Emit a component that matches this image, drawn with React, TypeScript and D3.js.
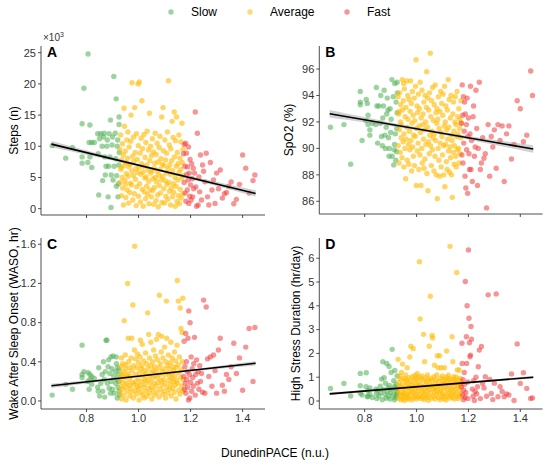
import React from "react";
import * as d3 from "d3";

// ---------- DATA ----------
const groups = ["Slow", "Average", "Fast"];
const groupColors = ["#4CAF50", "#FFBA00", "#F03C3C"];
const xTicks = [0.8, 1.0, 1.2, 1.4];
const xDomain: [number, number] = [0.625, 1.486];

// DunedinPACE per participant, by group
const xSlow = [0.668,0.72,0.746,0.783,0.783,0.783,0.79,0.806,0.805,0.81,
  0.813,0.813,0.82,0.82,0.83,0.843,0.845,0.847,0.85,0.855,
  0.86,0.862,0.865,0.868,0.87,0.872,0.875,0.878,0.88,0.883,
  0.885,0.887,0.89,0.892,0.894,0.895,0.898,0.90,0.902,0.905,
  0.906,0.91,0.912,0.914,0.916,0.918,0.92,0.921,0.923,0.925,
  0.925,0.924,0.926,0.915];
const xAvg = [0.928,0.929,0.931,0.932,0.934,0.935,0.937,0.938,0.939,0.941,
  0.942,0.944,0.945,0.946,0.948,0.949,0.951,0.952,0.953,0.955,
  0.956,0.958,0.959,0.960,0.962,0.963,0.964,0.966,0.967,0.969,
  0.970,0.971,0.973,0.974,0.975,0.977,0.978,0.980,0.981,0.982,
  0.984,0.985,0.987,0.988,0.989,0.991,0.992,0.993,0.995,0.996,
  0.998,0.999,1.000,1.002,1.003,1.004,1.006,1.007,1.009,1.010,
  1.011,1.013,1.014,1.015,1.017,1.018,1.020,1.021,1.022,1.024,
  1.025,1.027,1.028,1.029,1.031,1.032,1.033,1.035,1.036,1.038,
  1.039,1.040,1.042,1.043,1.044,1.046,1.047,1.049,1.050,1.051,
  1.053,1.054,1.055,1.057,1.058,1.060,1.061,1.062,1.064,1.065,
  1.067,1.068,1.069,1.071,1.072,1.073,1.075,1.076,1.078,1.079,
  1.080,1.082,1.083,1.084,1.086,1.087,1.089,1.090,1.091,1.093,
  1.094,1.095,1.097,1.098,1.100,1.101,1.102,1.104,1.105,1.107,
  1.108,1.109,1.111,1.112,1.113,1.115,1.116,1.118,1.119,1.120,
  1.122,1.123,1.124,1.126,1.127,1.129,1.130,1.131,1.133,1.134,
  1.135,1.137,1.138,1.140,1.141,1.142,1.144,1.145,1.146,1.148,
  1.149,1.151,1.152,1.153,1.155,1.156,1.157,1.159,1.160,1.162,
  1.163,1.164,1.166,1.167,1.168,1.170,1.171,1.172,0.933,0.950];
const xFast = [1.173,1.175,1.176,1.178,1.179,1.181,1.182,1.184,1.185,1.187,
  1.188,1.190,1.192,1.193,1.195,1.197,1.198,1.200,1.202,1.204,
  1.206,1.208,1.210,1.212,1.215,1.218,1.220,1.223,1.226,1.229,
  1.232,1.235,1.238,1.242,1.246,1.250,1.255,1.260,1.265,1.270,
  1.276,1.282,1.288,1.294,1.300,1.307,1.314,1.322,1.330,1.338,
  1.347,1.356,1.366,1.376,1.388,1.40,1.412,1.425,1.44,1.447];

// Steps (x10^3)
const stepsSlow = [10.1,8.1,9.8,13.6,8.3,7.3,19.3,24.8,7.4,10.6,
  13.4,8.3,6.6,10.6,10.6,12.0,8.8,2.2,11.2,12.0,
  10.0,4.5,11.5,12.1,8.3,5.4,6.8,10.0,11.0,1.9,
  6.8,12.0,8.3,14.2,0.2,5.4,10.2,11.5,4.6,21.2,
  6.8,12.1,8.0,17.6,5.3,10.0,11.0,1.9,4.0,14.7,
  13.5,7.0,9.0,3.6];
const stepsAvg = [9.5,4.2,11.8,6.3,2.1,7.8,5.0,10.4,3.3,8.6,
  0.6,16.1,6.9,13.2,4.5,9.2,1.8,7.4,5.6,11.0,
  3.0,8.1,12.3,5.2,0.9,6.7,9.9,2.6,7.1,4.1,
  10.8,15.0,3.8,6.0,20.2,8.4,1.4,5.3,11.5,7.6,
  2.4,16.2,9.0,4.7,6.4,0.5,12.0,3.5,7.9,5.8,
  20.0,10.1,2.0,6.6,20.3,4.0,8.9,1.1,5.5,11.3,
  7.2,17.3,3.1,9.6,5.9,0.4,6.8,11.9,2.7,4.9,
  8.2,1.6,10.6,5.1,3.6,7.0,12.4,2.3,6.2,9.4,
  4.4,0.8,15.3,7.7,3.0,10.0,5.7,1.9,8.5,6.1,
  11.2,2.9,4.8,9.1,0.7,6.5,3.4,7.3,12.1,5.0,
  1.3,8.7,4.3,10.5,6.0,2.2,7.5,0.3,5.4,9.8,
  3.7,11.6,6.3,2.5,8.0,4.6,14.7,1.0,7.1,5.2,
  16.2,9.3,3.2,6.9,0.9,11.0,4.5,7.8,2.0,5.7,
  8.9,3.9,12.3,1.5,6.4,20.5,4.2,10.2,2.8,7.0,
  5.5,0.6,9.6,3.3,7.7,14.0,1.9,6.1,11.4,4.0,
  2.6,15.5,8.3,5.0,0.4,10.9,3.6,6.8,14.7,1.2,
  9.0,4.6,7.2,2.1,11.8,5.8,0.8,8.1,3.1,6.3,
  10.7,1.7,4.9,13.7,7.4,2.4,9.5,5.3,6.6,3.9];
const stepsFast = [8.8,4.2,10.3,6.8,2.5,10.5,1.2,8.9,5.5,3.0,
  6.7,4.6,9.9,0.85,5.7,2.0,7.9,3.8,1.4,7.2,
  4.8,1.9,6.5,3.2,5.7,15.5,3.5,0.4,12.1,0.6,
  5.1,2.7,8.6,1.4,7.0,6.0,4.3,8.9,1.9,0.6,
  7.4,3.0,4.6,0.85,5.7,3.2,6.2,1.7,2.4,2.6,
  3.6,4.3,0.8,1.5,3.9,8.6,6.5,2.5,4.5,5.4];

// SpO2 (%)
const spo2Slow = [91.6,91.8,88.8,94.3,93.5,93.3,90.6,93.7,92.1,93.4,
  92.5,91.8,91.4,91.0,91.9,91.8,94.6,93.2,90.4,93.2,
  91.9,94.0,90.9,90.2,92.3,93.2,94.4,91.0,90.0,91.6,
  92.6,93.8,92.9,90.8,89.4,90.0,93.0,91.2,92.2,95.2,
  89.4,93.9,88.75,89.9,94.9,91.1,89.1,93.5,89.75,95.0,
  92.7,91.5,94.2,90.3];
const spo2Avg = [93.9,90.2,92.6,88.9,91.4,94.2,89.7,92.0,93.3,90.8,
  91.8,89.3,95.2,92.9,90.5,93.6,88.6,91.1,94.5,90.0,
  92.4,87.7,93.1,90.7,95.1,91.6,89.1,94.0,92.2,90.3,
  88.8,93.7,91.3,89.9,92.8,95.1,90.6,93.4,88.3,91.9,
  94.3,90.1,92.5,89.4,91.0,93.8,88.7,92.1,90.9,94.7,
  96.7,87.2,91.5,93.2,89.8,92.7,90.4,94.1,88.4,91.7,
  93.0,89.5,95.0,91.2,87.2,92.3,90.0,94.4,88.9,91.8,
  92.6,90.7,93.5,88.5,91.4,89.2,94.0,92.0,90.3,93.1,
  95.8,88.1,91.6,93.8,86.8,90.5,92.9,89.6,94.2,91.0,
  97.2,90.2,92.4,88.7,93.6,91.3,89.9,94.6,90.8,92.1,
  88.3,93.3,91.1,89.4,94.8,90.6,92.7,88.0,91.9,93.0,
  86.2,92.2,90.0,93.9,89.1,91.5,87.9,92.8,90.4,94.3,
  91.2,88.6,93.4,90.9,89.5,92.5,94.1,90.2,88.0,91.7,
  94.7,87.1,92.0,90.3,93.2,89.0,91.4,88.4,92.9,90.7,
  95.2,89.8,91.6,93.7,88.2,90.1,92.3,89.3,94.0,91.0,
  88.0,90.6,86.3,92.6,89.7,93.5,91.3,88.8,90.2,92.0,
  93.9,89.4,91.8,88.6,90.9,94.3,89.9,92.4,91.1,90.0,
  93.0,88.9,91.5,92.2,89.6,90.8,93.6,91.9,92.8,94.9];
const spo2Fast = [91.9,89.5,94.8,92.5,88.9,93.9,90.4,91.3,93.5,87.9,
  92.6,87.0,91.8,89.9,93.8,86.6,90.9,92.3,89.6,88.4,
  91.1,94.7,88.4,90.6,87.5,92.4,93.2,89.4,90.1,94.4,
  91.5,87.2,90.0,95.0,88.4,88.9,90.8,89.25,89.6,85.5,
  91.8,87.9,90.9,90.1,91.4,88.5,91.8,90.6,91.7,87.5,
  91.1,91.7,89.2,90.3,93.6,93.0,90.5,91.0,95.85,94.0];

// WASO (hr)
const wasoSlow = [0.06,0.17,0.12,0.57,0.27,0.24,0.30,0.29,0.20,0.12,
  0.27,0.22,0.17,0.25,0.23,0.14,0.10,0.34,0.05,0.18,
  0.27,0.10,0.40,0.22,0.04,0.30,0.62,0.62,0.18,0.35,
  0.42,0.13,0.28,0.08,0.45,0.20,0.33,0.12,0.46,0.25,
  0.08,0.30,0.18,0.45,0.22,0.03,0.34,0.14,0.27,0.10,
  0.32,0.20,0.06,0.38];
const wasoAvg = [0.21,0.08,0.35,0.15,0.44,0.02,0.27,0.12,0.38,0.19,
  0.30,0.06,0.82,0.24,0.14,0.47,0.33,0.01,0.18,0.26,
  0.10,1.20,0.28,0.64,0.40,0.16,0.22,0.05,0.34,0.13,
  0.25,0.44,0.09,0.64,0.31,0.19,0.98,0.03,0.36,0.17,
  0.52,1.58,0.11,0.27,0.43,0.20,0.07,0.34,0.15,0.48,
  0.23,0.12,0.39,0.01,0.29,0.16,0.45,0.62,0.09,0.33,
  0.20,0.36,0.58,0.06,0.26,0.14,0.41,0.31,0.03,0.22,
  0.17,0.49,0.10,0.28,0.38,0.21,0.05,0.90,0.33,0.13,
  0.68,0.25,0.44,0.08,0.19,0.36,0.60,0.14,0.29,0.02,
  0.23,0.40,0.11,0.31,0.52,0.18,0.06,0.35,0.26,0.46,
  0.15,0.30,0.63,0.09,0.24,0.42,0.19,0.68,0.34,0.04,
  1.08,0.27,0.12,0.38,0.21,0.50,0.66,0.16,0.30,0.07,
  0.44,0.22,0.33,0.10,0.55,0.18,0.27,0.03,0.40,1.02,
  0.64,0.14,0.29,0.36,0.08,0.47,0.21,0.33,0.12,0.25,
  0.39,0.17,0.60,0.05,0.28,0.44,0.23,0.13,0.35,0.20,
  0.31,0.09,0.50,0.26,0.16,0.41,0.02,0.34,0.21,0.57,
  1.23,0.18,0.37,1.02,0.11,0.29,0.45,0.07,0.95,0.24,
  0.74,0.32,0.15,0.70,0.40,1.05,0.22,0.10,0.26,0.37];
const wasoFast = [0.25,0.61,0.12,0.35,0.18,0.69,0.08,0.40,0.22,0.30,
  0.14,0.64,0.01,0.92,0.27,0.03,0.80,0.19,0.45,0.10,
  0.33,0.24,0.15,0.38,0.65,0.06,0.27,0.42,0.18,0.30,
  0.12,0.36,0.20,0.28,0.09,1.03,0.08,0.96,0.43,0.25,
  0.45,0.15,0.47,0.31,0.08,0.52,0.64,0.16,0.10,0.27,
  0.22,0.35,0.59,0.28,0.44,0.11,0.55,0.74,0.20,0.75];

// High stress duration (hr/day)
const stressSlow = [0.53,0.74,0.21,1.16,0.64,0.33,0.25,1.19,0.60,0.18,
  0.43,0.20,0.55,0.28,0.15,0.50,0.32,0.10,0.45,0.22,
  0.62,0.35,0.92,0.05,1.65,0.48,0.98,0.28,0.75,0.12,
  1.58,0.40,0.55,0.20,1.45,0.65,0.08,0.35,1.20,0.50,
  2.17,0.25,0.85,0.60,1.28,0.15,0.45,0.70,0.30,1.05,
  0.20,0.55,0.38,0.05];
const stressAvg = [0.45,1.75,0.12,0.80,0.30,1.05,0.60,0.05,0.92,0.38,
  1.20,0.22,0.70,1.55,0.10,0.55,0.95,0.33,0.02,0.85,
  0.48,1.10,0.18,0.65,0.90,0.28,1.40,0.07,0.75,0.40,
  0.15,0.98,0.58,1.85,0.25,0.82,2.30,0.44,0.04,0.68,
  1.02,0.35,2.20,0.60,0.13,0.88,0.50,0.21,1.08,0.72,
  0.30,0.95,0.08,0.62,1.15,0.40,0.78,0.16,0.55,1.00,
  5.85,0.25,3.45,0.70,0.10,0.92,0.45,1.05,0.18,0.60,
  0.36,2.80,0.85,0.06,1.65,0.52,0.28,0.98,0.65,0.14,
  0.80,0.40,1.10,0.22,0.58,0.03,0.90,2.30,0.48,0.70,
  4.40,0.32,0.95,0.12,0.62,2.75,0.85,2.65,0.20,0.50,
  1.02,0.38,1.50,0.08,0.72,0.55,0.90,0.26,1.10,0.44,
  1.90,0.64,1.40,0.15,0.82,0.35,1.90,0.58,0.05,0.96,
  0.42,1.40,0.70,0.18,1.05,0.30,0.86,0.52,0.10,0.75,
  1.40,0.25,0.92,0.60,0.04,1.00,2.10,0.45,0.78,0.20,
  0.66,1.08,0.35,0.88,0.12,6.50,0.56,0.94,0.28,0.72,
  0.48,2.70,0.16,1.65,0.82,0.38,1.02,0.60,0.08,0.90,
  0.30,0.75,0.50,1.00,5.40,0.22,1.30,0.65,0.10,0.85,
  0.42,1.30,0.18,0.70,0.95,0.32,0.58,0.80,0.62,0.27];
const stressFast = [0.60,2.43,1.58,0.25,0.90,0.05,0.45,1.20,0.70,0.15,
  5.02,0.35,2.70,1.58,4.00,0.80,0.10,6.35,3.48,2.45,
  1.86,1.93,3.13,2.60,0.50,0.20,0.85,0.02,0.40,1.00,
  0.30,0.60,1.44,2.14,0.10,2.29,0.74,0.55,1.02,0.20,
  4.46,0.91,0.32,0.06,0.75,4.50,0.18,0.60,0.40,0.18,
  0.30,0.25,1.14,0.02,2.40,0.74,1.19,0.53,0.11,0.13];

// Linear fits (endpoints) and standard-error half-widths [at ends, at centre]
const fitSteps = [[0.665, 10.35], [1.45, 2.45]];
const fitSpo2 = [[0.665, 92.62], [1.45, 89.95]];
const fitWaso = [[0.665, 0.155], [1.45, 0.385]];
const fitStress = [[0.665, 0.30], [1.45, 1.0]];
const seSteps = [0.5, 0.18];
const seSpo2 = [0.28, 0.1];
const seWaso = [0.022, 0.008];
const seStress = [0.06, 0.02];

const stepsTicks = [0, 5, 10, 15, 20, 25];
const spo2Ticks = [86, 88, 90, 92, 94, 96];
const wasoTicks = [0, 0.4, 0.8, 1.2, 1.6];
const stressTicks = [0, 1, 2, 3, 4, 5, 6];

// ---------- DRAWING ----------
const FONT = "'Liberation Sans', Arial, Helvetica, sans-serif";
const xGroups = [xSlow, xAvg, xFast];

type PanelDef = {
  letter: string;
  title: string;
  ys: number[][];
  domain: [number, number];
  ticks: number[];
  fmt: (v: number) => string;
  fit: number[][];
  se: number[];
  left: number;
  right: number;
  top: number;
  bottom: number;
  titleX: number;
  showXLabels: boolean;
  mult?: boolean;
};

function Panel({ p }: { p: PanelDef }) {
  const x = d3.scaleLinear().domain(xDomain).range([p.left, p.right]);
  const y = d3.scaleLinear().domain(p.domain).range([p.bottom, p.top]);
  const [[fx0, fy0], [fx1, fy1]] = p.fit;
  const slope = (fy1 - fy0) / (fx1 - fx0);
  const xc = (fx0 + fx1) / 2;
  const half = (fx1 - fx0) / 2;
  const [seE, seM] = p.se;
  const samples = d3.range(0, 41).map((i) => fx0 + ((fx1 - fx0) * i) / 40);
  const seAt = (v: number) =>
    Math.sqrt(seM * seM + (seE * seE - seM * seM) * ((v - xc) / half) ** 2);
  const band = d3
    .area<number>()
    .x((v) => x(v))
    .y0((v) => y(fy0 + slope * (v - fx0) - seAt(v)))
    .y1((v) => y(fy0 + slope * (v - fx0) + seAt(v)));
  const axisColor = "#222";
  return (
    <g>
      {xGroups.map((xs, g) =>
        xs.map((xv, i) => (
          <circle
            key={`${g}-${i}`}
            cx={x(xv)}
            cy={y(p.ys[g][i])}
            r={2.7}
            fill={groupColors[g]}
            fillOpacity={g === 1 ? 0.6 : 0.55}
          />
        ))
      )}
      <path d={band(samples) || ""} fill="#9a9a9a" fillOpacity={0.45} />
      <line
        x1={x(fx0)}
        y1={y(fy0)}
        x2={x(fx1)}
        y2={y(fy1)}
        stroke="#000"
        strokeWidth={1.6}
      />
      <line x1={p.left} y1={p.top} x2={p.left} y2={p.bottom} stroke={axisColor} strokeWidth={0.8} />
      <line x1={p.left} y1={p.bottom} x2={p.right} y2={p.bottom} stroke={axisColor} strokeWidth={0.8} />
      {p.ticks.map((t) => (
        <g key={`yt${t}`}>
          <line x1={p.left - 3} x2={p.left} y1={y(t)} y2={y(t)} stroke={axisColor} strokeWidth={0.8} />
          <text
            x={p.left - 5}
            y={y(t)}
            dy="0.35em"
            textAnchor="end"
            fontSize={11}
            fill="#333"
            fontFamily={FONT}
          >
            {p.fmt(t)}
          </text>
        </g>
      ))}
      {xTicks.map((t) => (
        <g key={`xt${t}`}>
          <line x1={x(t)} x2={x(t)} y1={p.bottom} y2={p.bottom + 3} stroke={axisColor} strokeWidth={0.8} />
          {p.showXLabels && (
            <text
              x={x(t)}
              y={p.bottom + 13}
              textAnchor="middle"
              fontSize={11}
              fill="#333"
              fontFamily={FONT}
            >
              {d3.format(".1f")(t)}
            </text>
          )}
        </g>
      ))}
      <text x={p.left + 6} y={p.top + 11} fontSize={14} fontWeight="bold" fontFamily={FONT} fill="#000">
        {p.letter}
      </text>
      <text
        transform={`translate(${p.titleX},${(p.top + p.bottom) / 2}) rotate(-90)`}
        textAnchor="middle"
        dy="0.35em"
        fontSize={12}
        fontFamily={FONT}
        fill="#000"
      >
        {p.title}
      </text>
      {p.mult && (
        <text x={p.left + 2} y={p.top - 5} fontSize={10} fontFamily={FONT} fill="#333">
          ×10<tspan dy={-4} fontSize={7}>3</tspan>
        </text>
      )}
    </g>
  );
}

export default function App() {
  const fmtInt = d3.format("d");
  const fmt1 = d3.format(".1f");
  const panels: PanelDef[] = [
    {
      letter: "A", title: "Steps (n)", ys: [stepsSlow, stepsAvg, stepsFast],
      domain: [-1.01, 26.07], ticks: stepsTicks, fmt: fmtInt, fit: fitSteps, se: seSteps,
      left: 41, right: 265, top: 46, bottom: 215, titleX: 14, showXLabels: false, mult: true,
    },
    {
      letter: "B", title: "SpO2 (%)", ys: [spo2Slow, spo2Avg, spo2Fast],
      domain: [85.04, 97.74], ticks: spo2Ticks, fmt: fmtInt, fit: fitSpo2, se: seSpo2,
      left: 319.3, right: 542.6, top: 46, bottom: 214, titleX: 289, showXLabels: false,
    },
    {
      letter: "C", title: "Wake After Sleep Onset (WASO, hr)", ys: [wasoSlow, wasoAvg, wasoFast],
      domain: [-0.0817, 1.664], ticks: wasoTicks, fmt: fmt1, fit: fitWaso, se: seWaso,
      left: 41, right: 265, top: 238, bottom: 409, titleX: 14, showXLabels: true,
    },
    {
      letter: "D", title: "High Stress Duration (hr/day)", ys: [stressSlow, stressAvg, stressFast],
      domain: [-0.336, 6.85], ticks: stressTicks, fmt: fmtInt, fit: fitStress, se: seStress,
      left: 319.3, right: 542.6, top: 238, bottom: 409, titleX: 296, showXLabels: true,
    },
  ];
  const legendX = [171, 250, 347];
  return (
    <svg
      width={550}
      height={470}
      viewBox="0 0 550 470"
      style={{ position: "fixed", left: 0, top: 0, background: "#fff" }}
    >
      <rect width={550} height={470} fill="#fff" />
      {groups.map((g, i) => (
        <g key={g}>
          <circle cx={legendX[i]} cy={12} r={2.7} fill={groupColors[i]} fillOpacity={0.55} />
          <text x={legendX[i] + 20} y={12} dy="0.35em" fontSize={12} fontFamily={FONT} fill="#000">
            {g}
          </text>
        </g>
      ))}
      {panels.map((p) => (
        <Panel key={p.letter} p={p} />
      ))}
      <text x={275} y={453} dy="0.35em" textAnchor="middle" fontSize={12} fontFamily={FONT} fill="#000">
        DunedinPACE (n.u.)
      </text>
    </svg>
  );
}
